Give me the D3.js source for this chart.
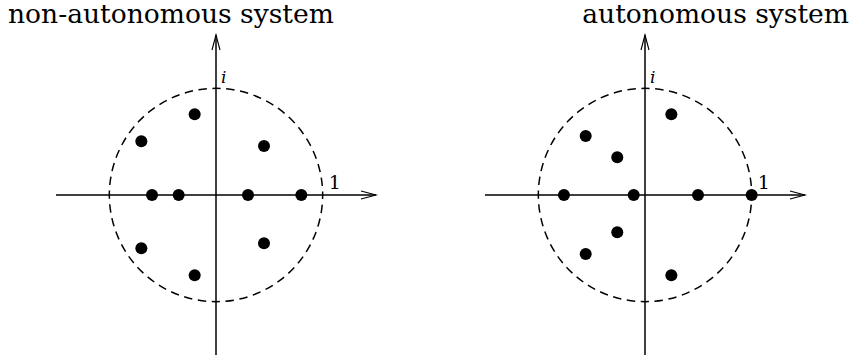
<!DOCTYPE html>
<meta charset="utf-8">
<script src="https://d3js.org/d3.v7.min.js"></script>
<style>
  body { margin: 0; background: #fff; }
</style>
<div id="my_dataviz"></div>
<script>
// eigenvalues in the complex plane, [re, im]
const leftPoints = [
    [-0.20, 0.756], [-0.70, 0.503], [0.45, 0.459],
    [-0.60, 0], [-0.35, 0], [0.30, 0], [0.80, 0],
    [-0.70, -0.50], [-0.20, -0.753], [0.45, -0.453]
]
const rightPoints = [
    [0.247, 0.756], [-0.556, 0.553], [-0.26, 0.353],
    [-0.76, 0], [-0.106, 0], [0.497, 0], [1.0, 0],
    [-0.26, -0.35], [-0.556, -0.553], [0.247, -0.753]
]
const titles = ["non-autonomous system", "autonomous system"]
const axisLabels = { re: "1", im: "i" }

const SERIF = "'DejaVu Serif', serif"

var width = 856, height = 359

var svg = d3.select("#my_dataviz")
    .append("svg")
    .attr("width", width)
    .attr("height", height)

function drawPlane(cx, points) {
    // unit circle radius ~107px, axes run from -1.5 to 1.5
    var x = d3.scaleLinear().domain([-1.5, 1.5]).range([cx - 160, cx + 160])
    var y = d3.scaleLinear().domain([-1.5, 1.5]).range([355, 35])
    var g = svg.append("g")
    var r = x(1) - x(0)

    // dashed unit circle, 48 dashes
    var circ = 2 * Math.PI * r
    var period = circ / 48
    g.append("circle")
        .attr("cx", x(0)).attr("cy", y(0)).attr("r", r)
        .attr("fill", "none")
        .attr("stroke", "#000")
        .attr("stroke-width", 1.5)
        .attr("stroke-dasharray", (period * 0.6) + "," + (period * 0.4))
        .attr("stroke-dashoffset", period * 0.3)

    // axes
    g.append("line")
        .attr("x1", x(-1.5)).attr("x2", x(1.5))
        .attr("y1", y(0)).attr("y2", y(0))
        .attr("stroke", "#000").attr("stroke-width", 1.5)
    g.append("line")
        .attr("x1", x(0)).attr("x2", x(0))
        .attr("y1", y(-1.5)).attr("y2", y(1.5))
        .attr("stroke", "#000").attr("stroke-width", 1.5)

    // open arrow heads
    g.append("path")
        .attr("d", "M" + (x(1.5) - 15) + "," + (y(0) - 4) + "L" + x(1.5) + "," + y(0) + "L" + (x(1.5) - 15) + "," + (y(0) + 4))
        .attr("fill", "none").attr("stroke", "#000").attr("stroke-width", 1.1)
    g.append("path")
        .attr("d", "M" + (x(0) - 4) + "," + (y(1.5) + 15) + "L" + x(0) + "," + y(1.5) + "L" + (x(0) + 4) + "," + (y(1.5) + 15))
        .attr("fill", "none").attr("stroke", "#000").attr("stroke-width", 1.1)

    // labels
    g.append("text")
        .attr("x", x(1) + 6).attr("y", y(0) - 6)
        .attr("font-family", SERIF)
        .attr("font-size", 19)
        .text(axisLabels.re)
    g.append("text")
        .attr("x", x(0) + 5).attr("y", y(1) - 5)
        .attr("font-family", SERIF)
        .attr("font-size", 17)
        .attr("font-style", "italic")
        .text(axisLabels.im)

    // points
    g.selectAll("circle.pt")
        .data(points)
        .enter().append("circle")
        .attr("class", "pt")
        .attr("cx", function (d) { return x(d[0]) })
        .attr("cy", function (d) { return y(d[1]) })
        .attr("r", 6)
        .attr("fill", "#000")
}

drawPlane(216, leftPoints)
drawPlane(645, rightPoints)

// titles, sized so the left one spans ~328px like the reference
var t0 = svg.append("text")
    .attr("x", 8).attr("y", 23)
    .attr("font-family", SERIF)
    .attr("font-size", 28)
    .text(titles[0])
var fs = 28 * 326 / t0.node().getComputedTextLength()
t0.attr("font-size", fs)
svg.append("text")
    .attr("x", 849).attr("y", 23)
    .attr("text-anchor", "end")
    .attr("font-family", SERIF)
    .attr("font-size", fs)
    .text(titles[1])
</script>
